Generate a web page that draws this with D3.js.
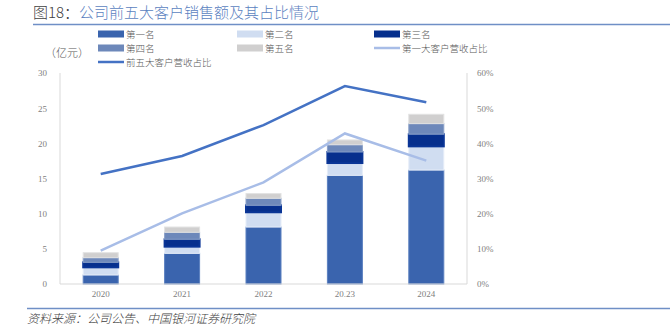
<!DOCTYPE html>
<html>
<head>
<meta charset="utf-8">
<script src="https://cdn.jsdelivr.net/npm/d3@7"></script>
<style>
  body { margin: 0; background: #fff; }
  svg { display: block; font-family: "Noto Sans CJK SC", "Noto Sans", sans-serif; }
</style>
</head>
<body>
<svg></svg>
<script>
// chart data (亿元 and %)
let years = ['2020', '2021', '2022', '20.23', '2024'];
let rank1 = [1.28, 4.36, 8.10, 15.45, 16.20];
let rank2 = [1.09, 0.95, 2.10, 1.75, 3.37];
let rank3 = [0.71, 1.05, 0.99, 1.57, 1.73];
let rank4 = [0.66, 0.99, 1.00, 1.03, 1.50];
let rank5 = [0.71, 0.75, 0.66, 0.68, 1.33];
let top5Share = [31.3, 36.4, 45.2, 56.3, 51.7];
let top1Share = [9.5, 20.1, 28.9, 42.8, 35.1];
let leftTicks = [0, 5, 10, 15, 20, 25, 30];
let rightTicks = [0, 10, 20, 30, 40, 50, 60];

let seriesNames = ['第一名', '第二名', '第三名', '第四名', '第五名'];
let colors = ['#3a64ae', '#d0ddf1', '#062f8d', '#6d88ba', '#d0cfcf'];
let strokes = ['#5b80c0', '#e6edf8', '#0a3596', '#8aa0c8', '#e2e2e2'];
let strokeWidths = [1, 1, 2, 1, 1];
let lineColors = { top5: '#4472c4', top1: '#a8bde7' };

let config = { svg: {}, plot: {} };
config.svg.width = 670;
config.svg.height = 326;
config.plot.x = 60;
config.plot.y = 73;
config.plot.width = 407;
config.plot.height = 211;

let svg = d3.select('svg')
  .attr('width', config.svg.width)
  .attr('height', config.svg.height);

function translate(x, y) {
  return 'translate(' + x + ',' + y + ')';
}

// title
let title = svg.append('text').attr('x', 33).attr('y', 18).attr('font-size', 15)
  .attr('font-weight', 300);
title.append('tspan').attr('fill', '#404040').text('图18：');
title.append('tspan').attr('fill', '#5b7fbf').text('公司前五大客户销售额及其占比情况');
svg.append('line').attr('x1', 33).attr('x2', 670).attr('y1', 24.5).attr('y2', 24.5)
  .attr('stroke', '#6f8fc6').attr('stroke-width', 1.5);

// stacked data
let table = years.map((y, i) => ({
  year: y, r0: rank1[i], r1: rank2[i], r2: rank3[i], r3: rank4[i], r4: rank5[i]
}));
let stacked = d3.stack().keys(['r0', 'r1', 'r2', 'r3', 'r4'])(table);

let x = d3.scaleBand().domain(years).range([0, config.plot.width]).paddingInner(0.57).paddingOuter(0.285);
let yL = d3.scaleLinear().domain([0, 30]).range([config.plot.height, 0]);
let yR = d3.scaleLinear().domain([0, 60]).range([config.plot.height, 0]);

let plot = svg.append('g').attr('transform', translate(config.plot.x, config.plot.y));

// axis frame
plot.append('line').attr('x1', 0).attr('x2', 0).attr('y1', 0).attr('y2', config.plot.height)
  .attr('stroke', '#d9d9d9');
plot.append('line').attr('x1', config.plot.width).attr('x2', config.plot.width).attr('y1', 0).attr('y2', config.plot.height)
  .attr('stroke', '#d9d9d9');

// bars
plot.append('g').selectAll('g').data(stacked).join('g')
  .attr('fill', (d, i) => colors[i])
  .attr('stroke', (d, i) => strokes[i])
  .attr('stroke-width', (d, i) => strokeWidths[i])
  .selectAll('rect').data(d => d).join('rect')
  .attr('x', d => x(d.data.year))
  .attr('y', d => yL(d[1]))
  .attr('width', x.bandwidth())
  .attr('height', d => yL(d[0]) - yL(d[1]));

plot.append('line').attr('x1', 0).attr('x2', config.plot.width)
  .attr('y1', config.plot.height).attr('y2', config.plot.height)
  .attr('stroke', '#d9d9d9');

// share lines
let line = d3.line()
  .x((d, i) => x(years[i]) + x.bandwidth() / 2)
  .y(d => yR(d));
plot.append('path').datum(top1Share).attr('d', line)
  .attr('fill', 'none').attr('stroke', lineColors.top1).attr('stroke-width', 2.5);
plot.append('path').datum(top5Share).attr('d', line)
  .attr('fill', 'none').attr('stroke', lineColors.top5).attr('stroke-width', 2.5);

// axes labels
let axisL = d3.axisLeft(yL).tickValues(leftTicks).tickSize(0).tickPadding(13);
let gl = plot.append('g').call(axisL);
let axisR = d3.axisRight(yR).tickValues(rightTicks).tickSize(0).tickPadding(10)
  .tickFormat(d => d + '%');
let gr = plot.append('g').attr('transform', translate(config.plot.width, 0)).call(axisR);
let axisB = d3.axisBottom(x).tickSize(0).tickPadding(7);
let gb = plot.append('g').attr('transform', translate(0, config.plot.height)).call(axisB);
[gl, gr, gb].forEach(g => {
  g.select('.domain').remove();
  g.selectAll('text').attr('fill', '#808080').attr('font-size', 9)
    .attr('font-family', '"Liberation Serif", serif');
});

svg.append('text').attr('x', 45).attr('y', 57).attr('font-size', 11)
  .attr('font-weight', 300).attr('fill', '#595959').text('（亿元）');

// legend
let legendItems = [
  { name: '第一名', type: 'rect', color: colors[0], x: 98, y: 34 },
  { name: '第二名', type: 'rect', color: colors[1], x: 237, y: 34 },
  { name: '第三名', type: 'rect', color: colors[2], x: 374, y: 34 },
  { name: '第四名', type: 'rect', color: colors[3], x: 98, y: 48 },
  { name: '第五名', type: 'rect', color: colors[4], x: 237, y: 48 },
  { name: '第一大客户营收占比', type: 'line', color: lineColors.top1, x: 374, y: 48 },
  { name: '前五大客户营收占比', type: 'line', color: lineColors.top5, x: 98, y: 62 }
];
let lg = svg.append('g').selectAll('g').data(legendItems).join('g')
  .attr('transform', d => translate(d.x, d.y));
lg.filter(d => d.type === 'rect').append('rect')
  .attr('x', 0).attr('y', -3.5).attr('width', 26).attr('height', 7)
  .attr('fill', d => d.color);
lg.filter(d => d.type === 'line').append('line')
  .attr('x1', 0).attr('x2', 26).attr('y1', 0).attr('y2', 0)
  .attr('stroke', d => d.color).attr('stroke-width', 2.5);
lg.append('text').attr('x', 28).attr('y', 3.5).attr('font-size', 9.5)
  .attr('font-weight', 300).attr('fill', '#595959').text(d => d.name);

// source
svg.append('line').attr('x1', 27).attr('x2', 670).attr('y1', 308.5).attr('y2', 308.5)
  .attr('stroke', '#6f8fc6').attr('stroke-width', 1.5);
svg.append('text').attr('x', 27).attr('y', 323).attr('font-size', 12)
  .attr('font-style', 'italic').attr('font-weight', 300).attr('fill', '#404040')
  .text('资料来源：公司公告、中国银河证券研究院');
</script>
</body>
</html>
